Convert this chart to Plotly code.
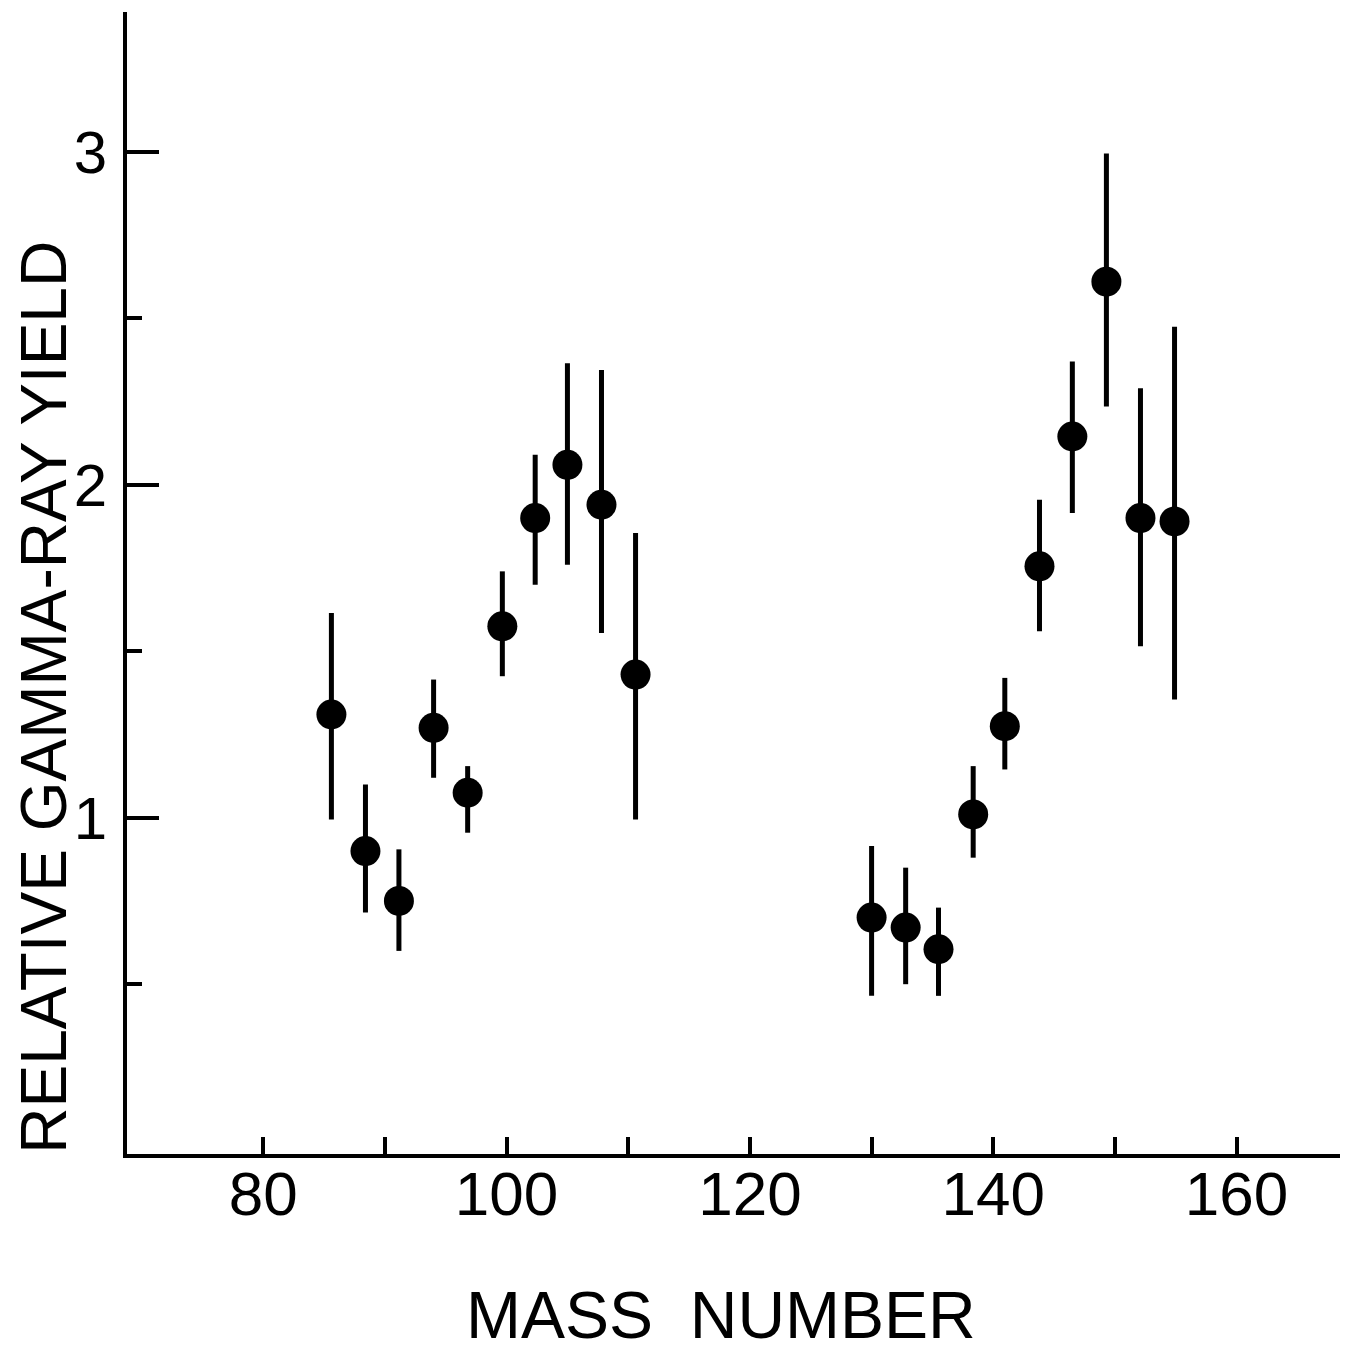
import plotly.graph_objects as go

mass = [85.6, 88.4, 91.15, 94.0, 96.8, 99.65, 102.35, 105.0, 107.8, 110.6,
        130.0, 132.8, 135.5, 138.35, 140.95, 143.8, 146.5, 149.3, 152.1, 154.9]
yield_ = [1.31, 0.90, 0.75, 1.27, 1.075, 1.575, 1.90, 2.06, 1.94, 1.43,
          0.70, 0.67, 0.605, 1.01, 1.275, 1.755, 2.145, 2.61, 1.90, 1.89]
err_hi = [1.615, 1.10, 0.905, 1.415, 1.155, 1.74, 2.09, 2.365, 2.345, 1.855,
          0.915, 0.85, 0.73, 1.155, 1.42, 1.955, 2.37, 2.995, 2.29, 2.475]
err_lo = [0.995, 0.715, 0.60, 1.12, 0.955, 1.425, 1.70, 1.76, 1.555, 0.995,
          0.465, 0.50, 0.465, 0.88, 1.145, 1.56, 1.915, 2.235, 1.515, 1.355]

x_ticks = [80, 100, 120, 140, 160]
x_minor = [90, 110, 130, 150]
y_ticks = [1, 2, 3]
y_minor = [0.5, 1.5, 2.5]

up = [h - v for h, v in zip(err_hi, yield_)]
dn = [v - l for v, l in zip(yield_, err_lo)]

fig = go.Figure()
fig.add_trace(go.Scatter(
    x=mass, y=yield_, mode="markers",
    marker=dict(size=30, color="black"),
    error_y=dict(type="data", symmetric=False, array=up, arrayminus=dn,
                 color="black", thickness=5, width=0),
    showlegend=False,
))

font_family = "Liberation Sans Narrow, Liberation Sans, Arial, sans-serif"

fig.update_layout(
    width=1350, height=1352,
    margin=dict(l=119, r=18, t=4, b=206),
    plot_bgcolor="white", paper_bgcolor="white",
    font=dict(family=font_family, color="black"),
    xaxis=dict(
        range=[68.8, 168.5], showgrid=False, zeroline=False,
        showline=True, linecolor="black", linewidth=4,
        tickmode="array", tickvals=x_ticks, ticktext=[str(t) for t in x_ticks],
        ticks="inside", ticklen=17, tickwidth=4, tickcolor="black",
        tickfont=dict(size=62, family=font_family),
        ticklabelstandoff=-17,
        minor=dict(tickmode="array", tickvals=x_minor, ticks="inside", ticklen=17,
                   tickwidth=4, tickcolor="black", showgrid=False),
    ),
    yaxis=dict(
        range=[-0.01, 3.42], showgrid=False, zeroline=False,
        showline=True, linecolor="black", linewidth=4,
        tickmode="array", tickvals=y_ticks, ticktext=[str(t) for t in y_ticks],
        ticks="inside", ticklen=32, tickwidth=4, tickcolor="black",
        tickfont=dict(size=60, family=font_family),
        ticklabelstandoff=4,
        minor=dict(tickmode="array", tickvals=y_minor, ticks="inside", ticklen=15,
                   tickwidth=4, tickcolor="black", showgrid=False),
    ),
    annotations=[
        dict(text="MASS\u00a0\u00a0NUMBER", xref="paper", yref="paper",
             x=0.49, y=-0.141, xanchor="center", yanchor="middle",
             showarrow=False, font=dict(size=66, family=font_family)),
        dict(text="RELATIVE GAMMA-RAY YIELD", xref="paper", yref="paper",
             x=-0.068, y=0.40, xanchor="center", yanchor="middle",
             textangle=-90, showarrow=False,
             font=dict(size=64, family=font_family)),
    ],
)

fig.write_html("out.html")
